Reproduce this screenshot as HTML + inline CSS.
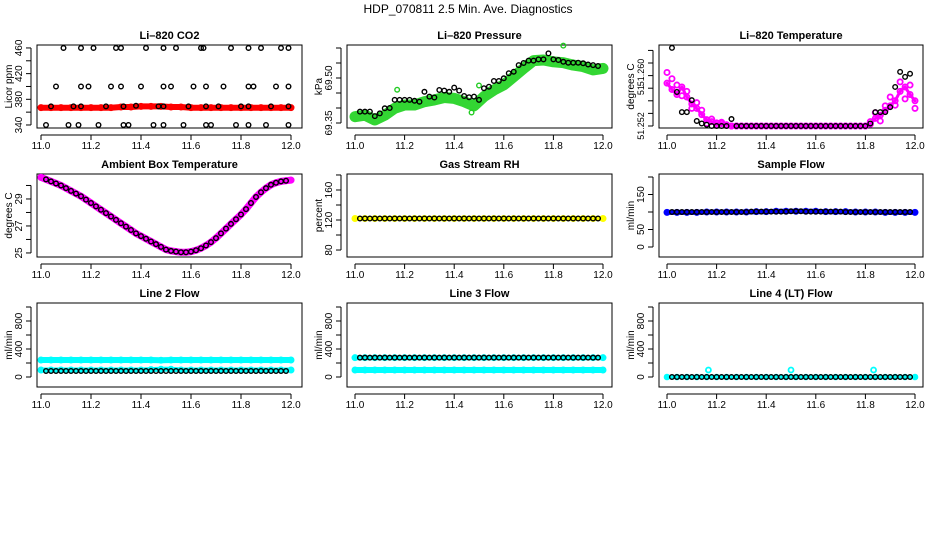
<!DOCTYPE html>
<html><head><meta charset="utf-8"><style>
html,body{margin:0;padding:0;background:#fff;}
svg{display:block;font-family:"Liberation Sans",Arial,sans-serif;}
</style></head><body>
<svg id="chart" width="936" height="540" viewBox="0 0 936 540">
<rect width="936" height="540" fill="#fff"/>
<text x="468" y="13" text-anchor="middle" font-size="12">HDP_070811  2.5 Min. Ave. Diagnostics</text>
</svg>
<script>
// ---------- data ----------
const xTicks = [11.0, 11.2, 11.4, 11.6, 11.8, 12.0];
const xTickLabels = ["11.0", "11.2", "11.4", "11.6", "11.8", "12.0"];

// CO2 black points (time, value)
const co2BlackX = [11.09,11.16,11.21,11.30,11.32,11.42,11.49,11.54,11.64,11.65,11.76,11.83,11.88,11.96,11.99,
  11.06,11.16,11.19,11.28,11.32,11.40,11.49,11.52,11.61,11.66,11.73,11.83,11.85,11.94,11.99,
  11.04,11.13,11.16,11.26,11.33,11.38,11.47,11.49,11.59,11.66,11.71,11.80,11.83,11.92,11.99,
  11.02,11.11,11.15,11.23,11.33,11.35,11.45,11.49,11.57,11.66,11.68,11.78,11.83,11.90,11.99];
const co2BlackY = [460,460,460,460,460,460,460,460,460,460,460,460,460,460,460,
  400,400,400,400,400,400,400,400,400,400,400,400,400,400,400,
  369,369,369,369,369,370,369,369,369,369,369,369,369,369,369,
  340,340,340,340,340,340,340,340,340,340,340,340,340,340,340];
const co2Red = [367,367,367,367,367,367,367,367,368,368,369,369,369,368,368,367,367,367,367,367,367,367,367,367,367,367];

// Pressure
const pressGreen = [69.371,69.376,69.360,69.376,69.399,69.410,69.410,69.421,69.427,69.435,69.432,69.421,69.407,69.438,69.460,69.477,69.504,69.532,69.558,69.560,69.554,69.551,69.543,69.538,69.527,69.532];
const pressOutX = [11.17, 11.50, 11.84, 11.47];
const pressOutY = [69.461, 69.475, 69.608, 69.385];
const pressBlack = [69.388,69.388,69.388,69.373,69.382,69.399,69.400,69.427,69.427,69.427,69.427,69.424,69.421,69.454,69.438,69.435,69.460,69.458,69.454,69.468,69.458,69.440,69.436,69.438,69.427,69.466,69.471,69.490,69.490,69.499,69.516,69.521,69.543,69.550,69.558,69.558,69.562,69.562,69.582,69.562,69.560,69.554,69.551,69.551,69.551,69.549,69.545,69.543,69.540];

// Li-820 temperature
const tempMag = [51.2588,51.2578,51.2570,51.2582,51.2566,51.2555,51.2548,51.2538,51.2530,51.2527,51.2525,51.2524,51.2522,
  51.252,51.252,51.252,51.252,51.252,51.252,51.252,51.252,51.252,51.252,51.252,51.252,51.252,51.252,51.252,51.252,51.252,51.252,51.252,51.252,51.252,51.252,51.252,51.252,51.252,51.252,51.252,51.252,
  51.2523,51.2532,51.2537,51.2545,51.2552,51.2560,51.2575,51.2582,51.2570,51.2560];
const tempMag2 = [51.2605,51.2595,51.2585,51.2568,51.2575,51.2548,51.2557,51.2545,51.2524,51.2531,51.2522,51.2526,51.2521,
  51.252,51.252,51.252,51.252,51.252,51.252,51.252,51.252,51.252,51.252,51.252,51.252,51.252,51.252,51.252,51.252,51.252,51.252,51.252,51.252,51.252,51.252,51.252,51.252,51.252,51.252,51.252,51.252,
  51.2527,51.2541,51.2528,51.2552,51.2566,51.2553,51.2590,51.2563,51.2585,51.2548];
const tempBlack = [51.2644,51.2574,51.2542,51.2542,51.2561,51.2528,51.2524,51.2522,51.252,
  51.252,51.252,51.252,51.2531,51.252,51.252,51.252,51.252,51.252,51.252,51.252,51.252,51.252,51.252,51.252,51.252,51.252,51.252,51.252,51.252,51.252,51.252,51.252,51.252,51.252,51.252,51.252,51.252,51.252,51.252,51.252,
  51.2524,51.2542,51.2542,51.2542,51.2550,51.2582,51.2606,51.2598,51.2603];

// Ambient box temperature
const ambMag = [30.6,30.45,30.3,30.15,30.0,29.8,29.6,29.4,29.2,28.95,28.7,28.45,28.2,27.95,27.7,27.45,27.2,26.95,26.7,26.45,26.25,26.05,25.85,25.65,25.45,25.25,25.15,25.1,25.05,25.05,25.1,25.2,25.35,25.55,25.8,26.1,26.45,26.8,27.15,27.5,27.85,28.25,28.7,29.15,29.5,29.8,30.05,30.2,30.3,30.35,30.4];
const ambBlack = [30.45,30.3,30.15,30.0,29.8,29.6,29.4,29.2,28.95,28.7,28.45,28.2,27.95,27.7,27.45,27.2,26.95,26.7,26.45,26.25,26.05,25.85,25.65,25.45,25.25,25.15,25.1,25.05,25.05,25.1,25.2,25.35,25.55,25.8,26.1,26.45,26.8,27.15,27.5,27.85,28.25,28.7,29.15,29.5,29.8,30.05,30.2,30.3,30.35];

// Gas stream RH
const rhYellow = [122,122,122,122,122,122,122,122,122,122,122,122,122,122,122,122,122,122,122,122,122,122,122,122,122,122];
const rhBlack = [122,122,122,122,122,122,122,122,122,122,122,122,122,122,122,122,122,122,122,122,122,122,122,122,122,122,122,122,122,122,122,122,122,122,122,122,122,122,122,122,122,122,122,122,122,122,122,122,122];

// Sample flow
const sampleBlue = [99,99,99,99,100,100,100,100,100,101,101,102,102,102,102,102,101,101,101,100,100,100,99,99,99,99];
const sampleBlack = [100,100,100,100,100,100,100,100,100,100,100,100,100,100,100,100,101,101,101,101,101,101,101,101,102,102,102,101,101,101,101,101,101,101,101,100,100,100,100,100,100,100,100,100,100,100,100,100,100];

// Line 2 flow
const l2CyanHi = [243,243,243,243,243,243,243,243,243,243,243,243,240,243,243,243,243,243,243,243,243,243,243,243,243,243];
const l2CyanLo = [100,100,100,100,100,100,100,100,100,100,100,105,110,110,100,100,100,100,100,100,100,100,100,100,100,100];
const l2Black = [86,86,86,86,86,86,86,86,86,86,86,86,86,86,86,86,86,86,86,86,86,86,86,86,86,86,86,86,86,86,86,86,86,86,86,86,86,86,86,86,86,86,86,86,86,86,86,86,86];

// Line 3 flow
const l3CyanHi = [276,276,276,276,276,276,276,276,276,276,276,276,276,276,276,276,276,276,276,276,276,276,276,276,276,276];
const l3CyanLo = [100,100,100,100,100,100,100,100,100,100,100,100,100,100,100,100,100,100,100,100,100,100,100,100,100,100];
const l3Black = [276,276,276,276,276,276,276,276,276,276,276,276,276,276,276,276,276,276,276,276,276,276,276,276,276,276,276,276,276,276,276,276,276,276,276,276,276,276,276,276,276,276,276,276,276,276,276,276,276];

// Line 4 flow
const l4Cyan = [0,0,0,0,0,0,0,0,0,0,0,0,0,0,0,0,0,0,0,0,0,0,0,0,0,0];
const l4OutX = [11.167, 11.5, 11.833];
const l4OutY = [100, 100, 100];
const l4Black = [0,0,0,0,0,0,0,0,0,0,0,0,0,0,0,0,0,0,0,0,0,0,0,0,0,0,0,0,0,0,0,0,0,0,0,0,0,0,0,0,0,0,0,0,0,0,0,0,0];

// time grids
const tColor = []; for (let i = 0; i < 26; i++) tColor.push(11 + i * 0.04);
const tColor51 = []; for (let i = 0; i < 51; i++) tColor51.push(11 + i * 0.02);
const tBlack = []; for (let i = 0; i < 49; i++) tBlack.push(11.02 + i * 0.02);

// ---------- drawing ----------
const NS = "http://www.w3.org/2000/svg";
const svg = document.getElementById("chart");
function mk(tag, attrs, parent) {
  const e = document.createElementNS(NS, tag);
  for (const k in attrs) e.setAttribute(k, attrs[k]);
  (parent || svg).appendChild(e);
  return e;
}
const cols = [{l:37,r:302,x0:41,x1:291},{l:347,r:612,x0:355,x1:603},{l:659,r:923,x0:667,x1:915}];
const rows = [{t:45,b:128},{t:174,b:257},{t:303,b:387}];

function panel(ci, ri, cfg) {
  const c = cols[ci], r = rows[ri];
  const g = mk("g", {});
  
  
  const xs = v => c.x0 + (v - 11) * (c.x1 - c.x0);
  const ys = v => r.b - (v - cfg.ymin) / (cfg.ymax - cfg.ymin) * (r.b - r.t);
  const box = mk("rect", {x:c.l, y:r.t, width:c.r-c.l, height:r.b-r.t, fill:"none", stroke:"#000", "stroke-width":1}, g);
  
  
  const title = mk("text", {x:(c.l+c.r)/2, y:r.t-6, "text-anchor":"middle", "font-size":11, "font-weight":"bold"}, g);
  title.textContent = cfg.title;
  
  
  // x axis
  const xa = mk("g", {}, g);
  
  
  mk("line", {x1:xs(xTicks[0]), x2:xs(xTicks[xTicks.length-1]), y1:r.b+7, y2:r.b+7, stroke:"#000"}, xa);
  xTicks.forEach((t, i) => {
    mk("line", {x1:xs(t), x2:xs(t), y1:r.b+7, y2:r.b+12, stroke:"#000"}, xa);
    const tx = mk("text", {x:xs(t), y:r.b+21, "text-anchor":"middle", "font-size":10}, xa);
    tx.textContent = xTickLabels[i];
    
    
  });
  // y axis
  const ya = mk("g", {}, g);
  
  
  const ax = c.l - 6;
  mk("line", {x1:ax, x2:ax, y1:ys(cfg.yticks[0]), y2:ys(cfg.yticks[cfg.yticks.length-1]), stroke:"#000"}, ya);
  cfg.yticks.forEach(t => {
    mk("line", {x1:ax-5, x2:ax, y1:ys(t), y2:ys(t), stroke:"#000"}, ya);
  });
  cfg.ylabels.forEach(([v, s]) => {
    const yy = ys(v);
    const tx = mk("text", {x:0, y:0, "text-anchor":"middle", "font-size":cfg.yfs || 10, transform:`translate(${ax-9},${yy}) rotate(-90)`}, ya);
    tx.textContent = s;
    
    
  });
  const yt = mk("text", {x:0, y:0, "text-anchor":"middle", "font-size":10, transform:`translate(${c.l-25},${(r.t+r.b)/2}) rotate(-90)`}, g);
  yt.textContent = cfg.ytitle;
  
  
  // series
  cfg.series.forEach(s => {
    const sg = mk("g", {}, g);
    
    
    if (s.band) {
      const pts = s.x.map((xv, i) => xs(xv).toFixed(1) + "," + ys(s.y[i]).toFixed(1)).join(" ");
      mk("polyline", {points:pts, fill:"none", stroke:s.color, "stroke-width":s.band, "stroke-linecap":"round", "stroke-linejoin":"round"}, sg);
    }
    s.x.forEach((xv, i) => {
      const p = mk("circle", {cx:xs(xv), cy:ys(s.y[i]), r:s.r || 2.3, fill:"none", stroke:s.color, "stroke-width":s.sw || 1.4}, sg);
      
      
    });
  });
}

const K = "#000", CY = "#00ffff";
panel(0, 0, {name:"co2", title:"Li\u2013820 CO2", ytitle:"Licor ppm", ymin:335.3, ymax:464.6,
  yticks:[340,360,380,400,420,440,460], ylabels:[[340,"340"],[380,"380"],[420,"420"],[460,"460"]],
  series:[{name:"co2-red-series", x:tColor, y:co2Red, color:"#ff0000", band:6, r:2.5, sw:2},
          {name:"co2-black-series", x:co2BlackX, y:co2BlackY, color:K}]});
panel(1, 0, {name:"pressure", title:"Li\u2013820 Pressure", ytitle:"kPa", ymin:69.3333, ymax:69.61,
  yticks:[69.35,69.40,69.45,69.50,69.55,69.60], ylabels:[[69.35,"69.35"],[69.50,"69.50"]],
  series:[{name:"pressure-green-series", x:tColor, y:pressGreen, color:"#33d633", band:11, r:3, sw:2},
          {name:"pressure-green-outliers", x:pressOutX, y:pressOutY, color:"#22cc22"},
          {name:"pressure-black-series", x:tBlack, y:pressBlack, color:K}]});
panel(2, 0, {name:"li820-temp", title:"Li\u2013820 Temperature", ytitle:"degrees C", ymin:51.25168, ymax:51.26486, yfs:9,
  yticks:[51.252,51.254,51.256,51.258,51.260,51.262,51.264], ylabels:[[51.252,"51.252"],[51.2577,"51"],[51.2605,"51.260"]],
  series:[{name:"temp-magenta-series", x:tColor51, y:tempMag, color:"#ff00ff", band:3, r:2.6, sw:1.8},
          {name:"temp-magenta-scatter", x:tColor51, y:tempMag2, color:"#ff00ff", r:2.6, sw:1.8},
          {name:"temp-black-series", x:tBlack, y:tempBlack, color:K}]});
panel(0, 1, {name:"ambient", title:"Ambient Box Temperature", ytitle:"degrees C", ymin:24.70, ymax:30.85,
  yticks:[25,26,27,28,29,30], ylabels:[[25,"25"],[27,"27"],[29,"29"]],
  series:[{name:"ambient-magenta-series", x:tColor51, y:ambMag, color:"#ff00ff", band:7, r:2.5, sw:2},
          {name:"ambient-black-series", x:tBlack, y:ambBlack, color:K}]});
panel(1, 1, {name:"rh", title:"Gas Stream RH", ytitle:"percent", ymin:70.7, ymax:181.3,
  yticks:[80,100,120,140,160,180], ylabels:[[80,"80"],[120,"120"],[160,"160"]],
  series:[{name:"rh-yellow-series", x:tColor, y:rhYellow, color:"#ffff00", band:5, r:2.5, sw:2},
          {name:"rh-black-series", x:tBlack, y:rhBlack, color:K}]});
panel(2, 1, {name:"sample-flow", title:"Sample Flow", ytitle:"ml/min", ymin:-28.6, ymax:208.6,
  yticks:[0,50,100,150,200], ylabels:[[0,"0"],[50,"50"],[150,"150"]],
  series:[{name:"sample-blue-series", x:tColor, y:sampleBlue, color:"#0000ff", band:5, r:2.5, sw:2},
          {name:"sample-black-series", x:tBlack, y:sampleBlack, color:K}]});
panel(0, 2, {name:"line2-flow", title:"Line 2 Flow", ytitle:"ml/min", ymin:-142.9, ymax:1057,
  yticks:[0,200,400,600,800,1000], ylabels:[[0,"0"],[400,"400"],[800,"800"]],
  series:[{name:"line2-cyan-high", x:tColor, y:l2CyanHi, color:CY, band:6, r:2.5, sw:2},
          {name:"line2-cyan-low", x:tColor, y:l2CyanLo, color:CY, band:5, r:2.5, sw:2},
          {name:"line2-black-series", x:tBlack, y:l2Black, color:K}]});
panel(1, 2, {name:"line3-flow", title:"Line 3 Flow", ytitle:"ml/min", ymin:-142.9, ymax:1057,
  yticks:[0,200,400,600,800,1000], ylabels:[[0,"0"],[400,"400"],[800,"800"]],
  series:[{name:"line3-cyan-high", x:tColor, y:l3CyanHi, color:CY, band:5, r:2.5, sw:2},
          {name:"line3-cyan-low", x:tColor, y:l3CyanLo, color:CY, band:6, r:2.5, sw:2},
          {name:"line3-black-series", x:tBlack, y:l3Black, color:K}]});
panel(2, 2, {name:"line4-flow", title:"Line 4 (LT) Flow", ytitle:"ml/min", ymin:-142.9, ymax:1057,
  yticks:[0,200,400,600,800,1000], ylabels:[[0,"0"],[400,"400"],[800,"800"]],
  series:[{name:"line4-cyan-series", x:tColor, y:l4Cyan, color:CY, band:4, r:2.3, sw:2},
          {name:"line4-cyan-outliers", x:l4OutX, y:l4OutY, color:CY, r:2.5, sw:1.8},
          {name:"line4-black-series", x:tBlack, y:l4Black, color:K}]});
</script>
</body></html>
